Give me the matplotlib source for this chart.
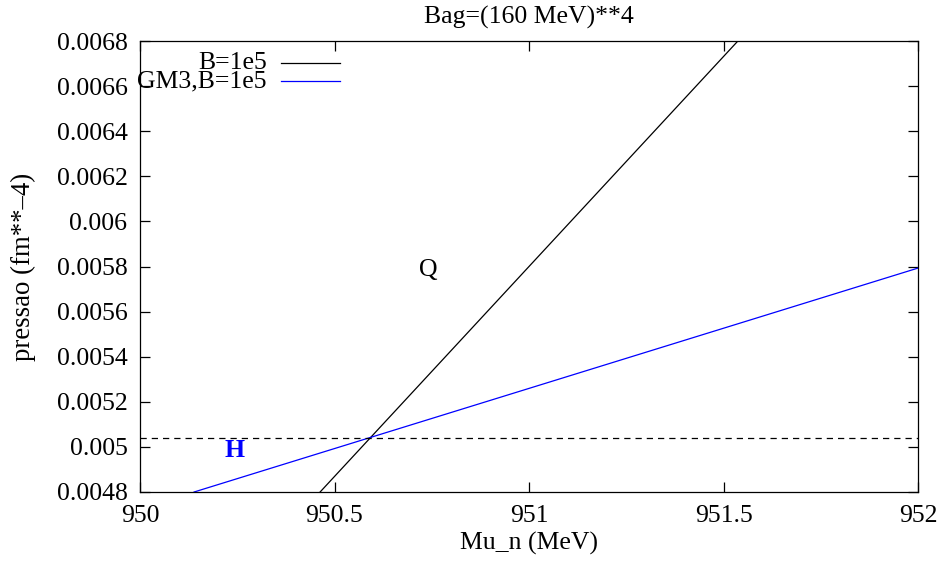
import numpy as np
import matplotlib
matplotlib.use('Agg')
import matplotlib.pyplot as plt

# curves (Mu_n in MeV, pressure in fm**-4)
mu_q = [950.463, 951.537]
p_q = [0.0048, 0.0068]
mu_h = [950.139, 952.0]
p_h = [0.0048, 0.005793]
p_cross = 0.005039

legend_labels = ['B=1e5', 'GM3,B=1e5']
line_colors = ['black', 'blue']

xticks = [950, 950.5, 951, 951.5, 952]
xtick_labels = ['950', '950.5', '951', '951.5', '952']
yticks = np.arange(0.0048, 0.00681, 0.0002)
ytick_labels = ['0.0048', '0.005', '0.0052', '0.0054', '0.0056', '0.0058',
                '0.006', '0.0062', '0.0064', '0.0066', '0.0068']

plt.rcParams['font.family'] = ['Liberation Serif', 'DejaVu Serif']
fs = 18.5

fig = plt.figure(figsize=(9.43, 5.63), dpi=100)
ax = fig.add_axes([140 / 943, 1 - 492 / 563, 778 / 943, 451 / 563])

ax.plot(mu_q, p_q, color=line_colors[0], linewidth=0.9)
ax.plot(mu_h, p_h, color=line_colors[1], linewidth=0.9)
ax.axhline(p_cross, color='black', linewidth=0.9, dashes=(5, 4))

ax.text(950.74, 0.005784, 'Q', fontsize=fs, ha='center', va='center')
ax.text(950.244, 0.004986, 'H', fontsize=fs, ha='center', va='center',
        color='blue', fontweight='bold')

# gnuplot style key: right aligned text then sample line
for i, lab in enumerate(legend_labels):
    yk = 1 - (22 + 18 * i) / 451
    ax.text((267 - 140) / 778, yk, lab, transform=ax.transAxes, fontsize=fs,
            ha='right', va='center')
    ax.plot([(281 - 140) / 778, (340 - 140) / 778], [yk, yk], transform=ax.transAxes,
            color=line_colors[i], linewidth=0.9)

ax.set_xlim(950, 952)
ax.set_ylim(0.0048, 0.0068)
ax.set_xticks(xticks)
ax.set_xticklabels(xtick_labels)
ax.set_yticks(yticks)
ax.set_yticklabels(ytick_labels)
ax.tick_params(direction='in', length=7, width=0.9, top=True, right=True,
               labelsize=fs, pad=9)
for s in ax.spines.values():
    s.set_linewidth(0.9)

ax.set_title('Bag=(160 MeV)**4', fontsize=fs, pad=12.5)
ax.set_xlabel('Mu_n (MeV)', fontsize=fs, labelpad=4)
ax.set_ylabel('pressao (fm**\u20134)', fontsize=19.3)
ax.yaxis.set_label_coords(-104 / 778, 0.5)

fig.savefig('out.png', dpi=100)
